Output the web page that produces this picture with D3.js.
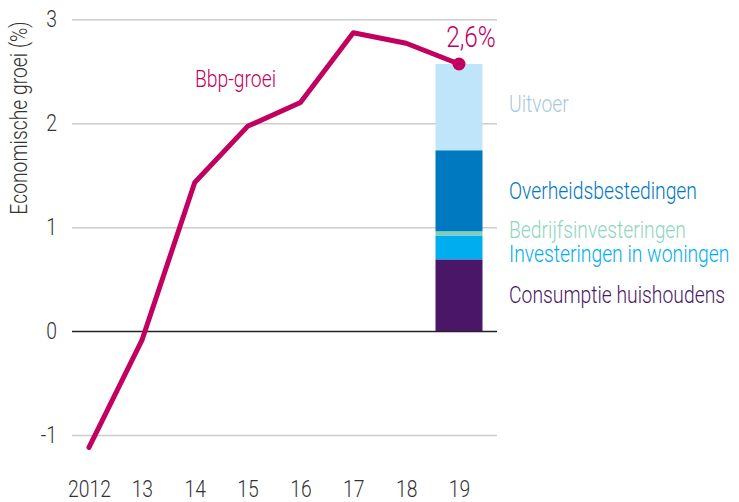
<!DOCTYPE html>
<html>
<head>
<meta charset="utf-8">
<script src="https://cdn.jsdelivr.net/npm/d3@7"></script>
<style>
  body { margin: 0; background: #fff; }
  text { font-family: Roboto, "Liberation Sans", sans-serif; font-weight: 300; }
</style>
</head>
<body>
<script>
// data
var years = ["2012", "2013", "2014", "2015", "2016", "2017", "2018", "2019"];
var yearLabels = ["2012", "13", "14", "15", "16", "17", "18", "19"];
var growth = [-1.12, -0.09, 1.43, 1.97, 2.2, 2.87, 2.77, 2.57];
var yTicks = [-1, 0, 1, 2, 3];

// contributions to 2019 growth, bottom to top
var parts = ["Consumptie huishoudens", "Investeringen in woningen", "Bedrijfsinvesteringen",
             "Overheidsbestedingen", "Uitvoer"];
var partValues = [0.69, 0.23, 0.04, 0.78, 0.83];
var partColors = ["#4a1768", "#00aeef", "#7fcfb6", "#0079c1", "#bee5f9"];
var labelColors = ["#4a1768", "#00aeef", "#8ed6be", "#0079c1", "#a9cadd"];
var labelNudge = [8, 15, 5, 8, 5];

var width = 739, height = 502;
var magenta = "#c1005f";
var condense = 0.84;

var svg = d3.select("body").append("svg")
  .attr("width", width)
  .attr("height", height);

// squeeze text horizontally to mimic the condensed face
function squash(sel) {
  sel.each(function() {
    var w = this.getComputedTextLength();
    d3.select(this)
      .attr("textLength", w * condense)
      .attr("lengthAdjust", "spacingAndGlyphs");
  });
}

var x = d3.scalePoint().domain(years).range([89, 459]);
var y = d3.scaleLinear().domain([-1, 3]).range([435, 19.3]);

var gridLeft = 72, gridRight = 497;

// y axis + gridlines
var yAxis = svg.append("g")
  .attr("transform", "translate(" + gridLeft + ",0)")
  .call(d3.axisLeft(y).tickValues(yTicks).tickSize(-(gridRight - gridLeft)).tickPadding(15)
    .tickFormat(function(d) { return d; }));
yAxis.select(".domain").remove();
yAxis.selectAll("line")
  .attr("stroke", function(d) { return d === 0 ? "#222" : "#ccc"; })
  .attr("stroke-width", 1.5);
yAxis.selectAll("text")
  .attr("font-size", 23)
  .attr("fill", "#333")
  .call(squash);

// x axis labels
var xAxis = svg.append("g")
  .attr("transform", "translate(0,470)")
  .call(d3.axisBottom(x).tickSize(0).tickFormat(function(d, i) { return yearLabels[i]; }));
xAxis.select(".domain").remove();
xAxis.selectAll("text")
  .attr("font-size", 23)
  .attr("fill", "#333")
  .attr("y", 27)
  .attr("dy", 0)
  .call(squash);

// y title
svg.append("text")
  .attr("transform", "translate(27,118) rotate(-90)")
  .attr("text-anchor", "middle")
  .attr("font-size", 23)
  .attr("fill", "#333")
  .text("Economische groei (%)")
  .call(squash);

// stacked bar for 2019
var stack = [];
var acc = 0;
partValues.forEach(function(v, i) {
  stack.push({ name: parts[i], y0: acc, y1: acc + v, color: partColors[i], label: labelColors[i], nudge: labelNudge[i] });
  acc += v;
});

var barW = 47;
var bx = x("2019") - barW / 2;

svg.selectAll("rect.part")
  .data(stack)
  .enter()
  .append("rect")
  .attr("class", "part")
  .attr("x", bx)
  .attr("width", barW)
  .attr("y", function(d) { return y(d.y1); })
  .attr("height", function(d) { return y(d.y0) - y(d.y1); })
  .attr("fill", function(d) { return d.color; });

svg.selectAll("text.part")
  .data(stack)
  .enter()
  .append("text")
  .attr("class", "part")
  .attr("x", 509)
  .attr("y", function(d) { return y((d.y0 + d.y1) / 2) + d.nudge; })
  .attr("font-size", 23)
  .attr("fill", function(d) { return d.label; })
  .text(function(d) { return d.name; })
  .call(squash);

// GDP growth line
var line = d3.line()
  .x(function(d, i) { return x(years[i]); })
  .y(function(d) { return y(d); });

svg.append("path")
  .datum(growth)
  .attr("d", line)
  .attr("fill", "none")
  .attr("stroke", magenta)
  .attr("stroke-width", 5)
  .attr("stroke-linejoin", "round")
  .attr("stroke-linecap", "round");

svg.append("circle")
  .attr("cx", x("2019"))
  .attr("cy", y(growth[growth.length - 1]))
  .attr("r", 6.5)
  .attr("fill", magenta);

svg.append("text")
  .attr("x", 471)
  .attr("y", 47)
  .attr("text-anchor", "middle")
  .attr("font-size", 29)
  .attr("fill", magenta)
  .text("2,6%")
  .call(squash);

svg.append("text")
  .attr("x", 195)
  .attr("y", 87)
  .attr("font-size", 23)
  .attr("fill", magenta)
  .text("Bbp-groei")
  .call(squash);
</script>
</body>
</html>
